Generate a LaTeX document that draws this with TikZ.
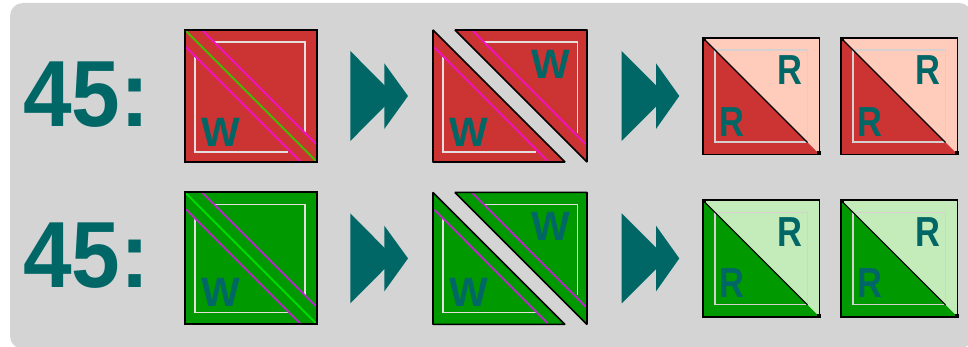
\documentclass[tikz,border=0pt]{standalone}
\usepackage{fontspec}
\setmainfont{Liberation Sans}
\usepackage{tikz}
\definecolor{panelgray}{HTML}{D4D4D4}
\definecolor{tealtxt}{HTML}{006666}
\definecolor{framegray}{HTML}{E6DEDE}
\definecolor{redmain}{HTML}{CC3333}
\definecolor{redpale}{HTML}{FFCCBB}
\definecolor{redline}{HTML}{F012C0}
\definecolor{redmid}{HTML}{44BB00}
\definecolor{greenmain}{HTML}{009900}
\definecolor{greenpale}{HTML}{C4EBBA}
\definecolor{greenline}{HTML}{C022D0}
\definecolor{greenmid}{HTML}{00E000}

\begin{document}
\begin{tikzpicture}[x=1pt, y=-1pt, line join=miter,
    edge/.style={draw=black, line width=1.9pt},
    cut/.style={draw=black, line width=1.6pt, line join=bevel},
    seam/.style={line width=1.8pt},
    inner/.style={draw=framegray, line width=1.6pt},
    big/.style={font=\fontsize{94}{94}\selectfont\bfseries, text=tealtxt, inner sep=0pt, xscale=0.93},
    wlab/.style={font=\fontsize{41}{41}\selectfont\bfseries, text=tealtxt, inner sep=0pt},
    rlab/.style={font=\fontsize{42}{42}\selectfont\bfseries, text=tealtxt, inner sep=0pt, xscale=0.82},
    go/.style={fill=tealtxt}]

    \useasboundingbox (0,0) rectangle (968,347);
    \fill[white] (0,0) rectangle (968,347);
    \fill[panelgray, rounded corners=13pt] (10,3) rectangle (972,349);

    % ---- one row per colour
    \foreach \r/\dy/\up/\main/\pale/\line/\mid in {a/0/0/redmain/redpale/redline/redmid,
                                                  b/162.4/2/greenmain/greenpale/greenline/greenmid} {
    \begin{scope}[shift={(0,\dy)}]
      \node[big] (num\r) at (86.5,{95-\up}) {45:};

      % ---- whole square
      \fill[\main] (185,30) rectangle (317,162);
      \draw[inner] (195,57) -- (195,{152-\up}) -- (288,{152-\up});
      \draw[inner] (214,42) -- (305,42) -- (305,133);
      \draw[\line, seam] (202,30) -- (316,144);
      \draw[\line, seam] (186,47) -- (300,161);
      \draw[\mid, seam] (186,31) -- (316,161);
      \draw[edge] (185,30) rectangle (317,162);
      \node[wlab] (wa\r) at (221,{132-\up}) {W};

      \fill[go] (350.3,51) -- (395,96) -- (350.3,141) -- cycle;
      \fill[go] (384.3,63.3) -- (408,96) -- (384.3,129) -- cycle;

      % ---- cut in two
      \fill[\main] (433,30) -- (433,162) -- (565,162) -- cycle;
      \fill[\main] (455,30) -- (587,30) -- (587,162) -- cycle;
      \draw[inner] (442.7,57) -- (442.7,{152-\up}) -- (536,{152-\up});
      \draw[inner] (483.3,42) -- (577.3,42) -- (577.3,133);
      \draw[\line, seam] (434.3,47.3) -- (547.7,161);
      \draw[\line, seam] (472.3,30.5) -- (585.7,144.3);
      \draw[cut] (433,30) -- (433,162) -- (565,162) -- cycle;
      \draw[cut] (455,30) -- (587,30) -- (587,162) -- cycle;
      \node[wlab] (wb\r) at (469,{132-\up}) {W};
      \node[wlab] (wc\r) at (551,64) {W};

      \fill[go] (621.7,51) -- (666.7,96) -- (621.7,141) -- cycle;
      \fill[go] (656,63.3) -- (679.3,96) -- (656,129) -- cycle;

      % ---- two finished squares
      \foreach \n/\x in {1/703,2/841} {
        \begin{scope}[shift={(\x,38)}]
          \fill[\pale] (0,0) rectangle (116.5,116.5);
          \fill[\main] (0,0) -- (116.5,116.5) -- (0,116.5) -- cycle;
          \draw[draw=framegray!85!gray, line width=1.3pt] (12,12) rectangle (104.5,104);
          \draw[black, line width=1.2pt] (0,0) -- (104.5,104.5);
          \draw[edge] (0,0) rectangle (116.5,116.5);
          \fill[black] (-1,-1) rectangle (3,3);
          \fill[black] (113.5,113.5) rectangle (117.5,117.5);
          \node[rlab] (ru\r\n) at (87,32) {R};
          \node[rlab] (rl\r\n) at (29,{84.5-\up}) {R};
        \end{scope}
      }
    \end{scope}
    }
  \end{tikzpicture}
\end{document}
